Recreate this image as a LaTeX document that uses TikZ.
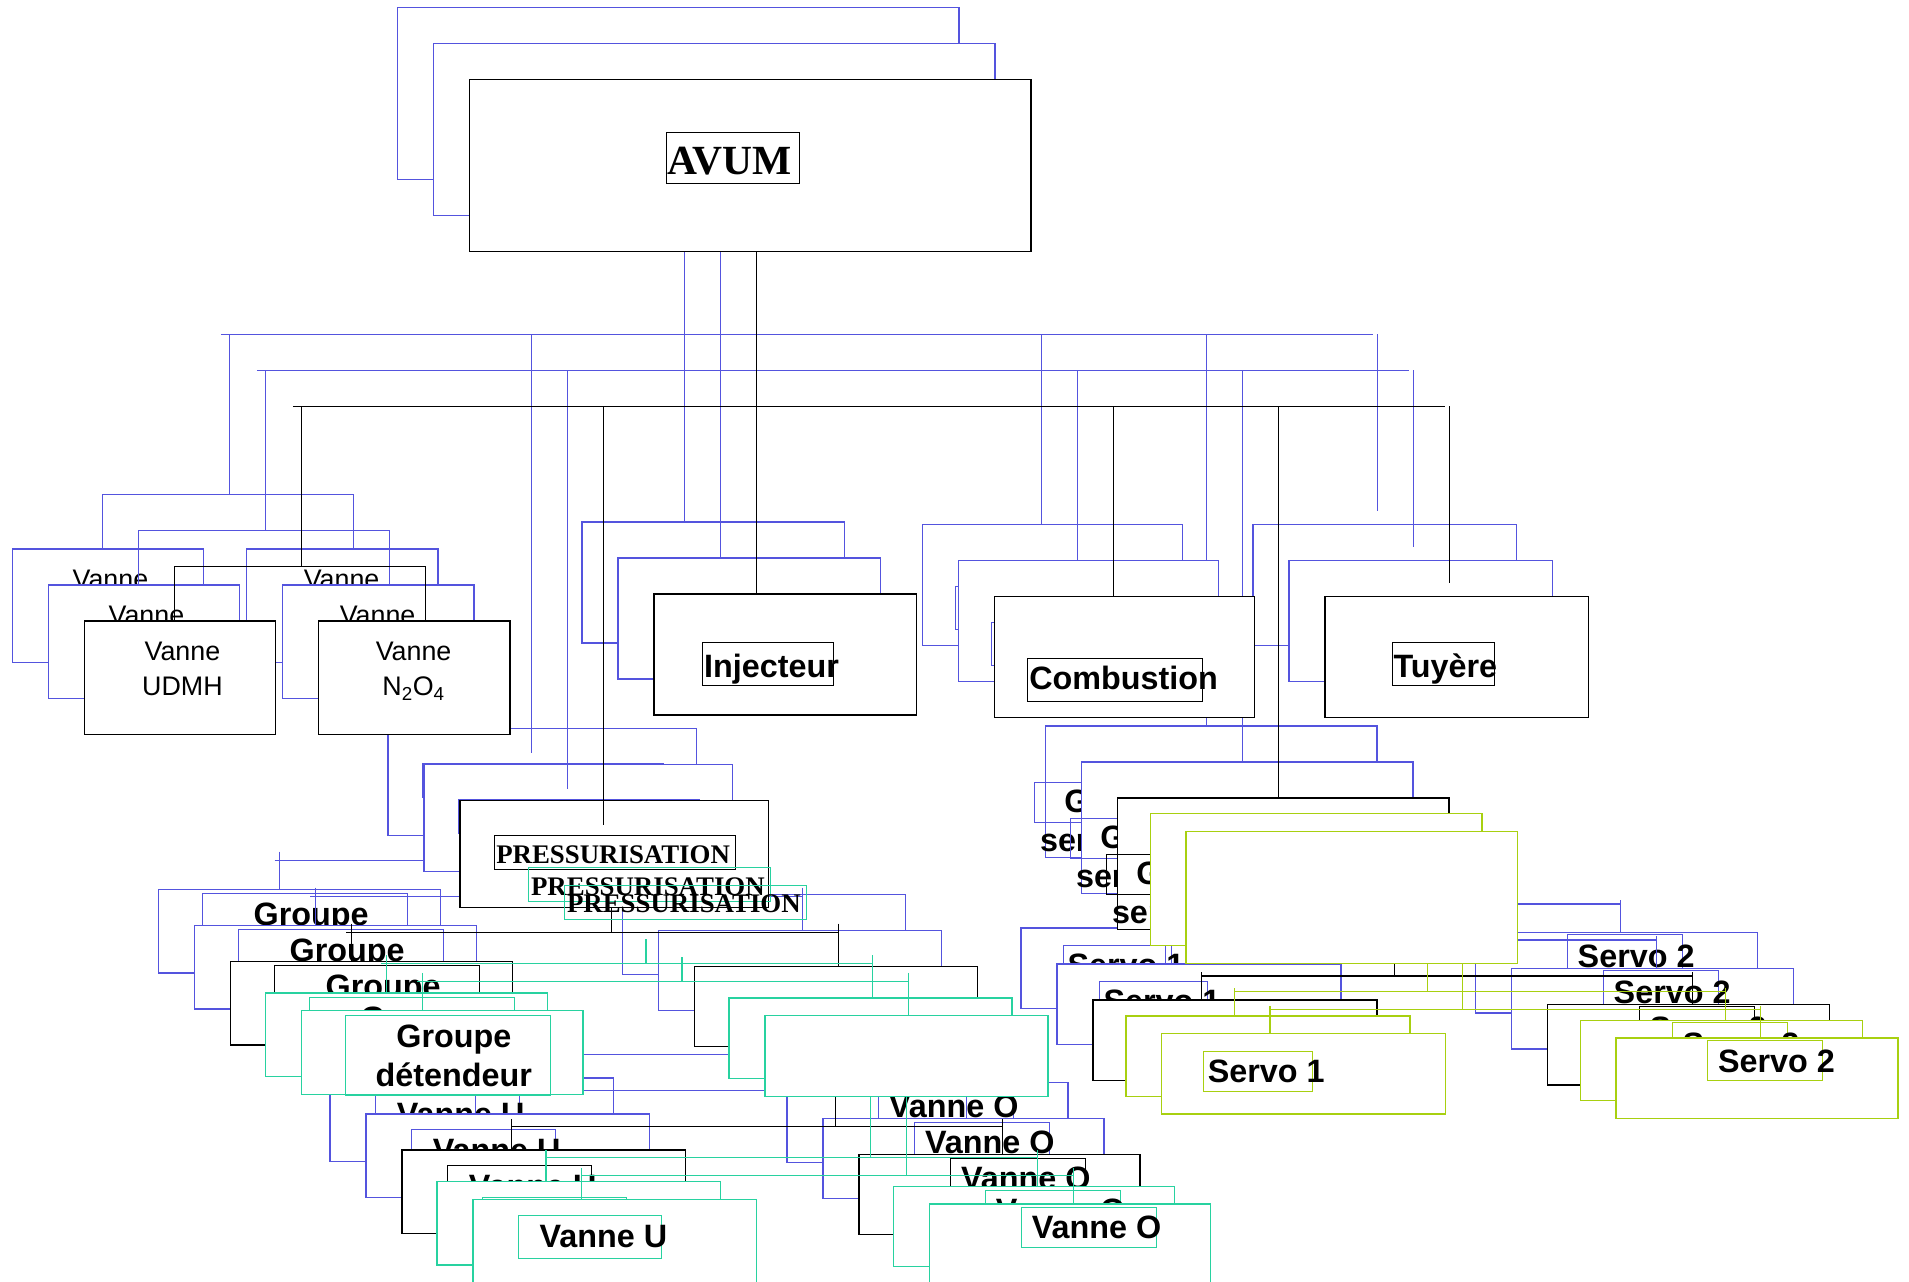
\documentclass[tikz,border=0pt]{standalone}
\usepackage{fontspec}
\setmainfont{Liberation Serif}
\setsansfont{Liberation Sans}

\definecolor{ghostblue}{RGB}{84,84,222}
\definecolor{ghostcyan}{RGB}{40,210,160}
\definecolor{ghostlime}{RGB}{168,208,16}

\newif\ifpressbox
\newif\ifservoname

\tikzset{
  chartbox/.style={draw, fill=white, line width=1.1pt, inner sep=0pt, outer sep=0pt, anchor=north west},
  tagbox/.style={draw, line width=0.8pt, inner sep=0pt, outer sep=0pt, anchor=north west},
  wire/.style={line width=0.9pt},
  chartname/.style={text=black, inner sep=0pt, anchor=base west},
  serifbig/.style={chartname, font=\rmfamily\bfseries\fontsize{34}{40}\selectfont},
  serifsmall/.style={chartname, font=\rmfamily\bfseries\fontsize{22}{26}\selectfont},
  sansbold/.style={chartname, font=\sffamily\bfseries\fontsize{26.5}{32}\selectfont},
  sanstwo/.style={text=black, inner sep=0pt, anchor=north, align=center, font=\sffamily\bfseries\fontsize{26.5}{32}\selectfont},
  vannetext/.style={text=black, inner sep=0pt, anchor=north, align=center, font=\sffamily\fontsize{22}{29}\selectfont}
}

% box: name, x, y, width, height
\newcommand{\cbox}[5]{%
  \node[chartbox, minimum width=#4pt, minimum height=#5pt] (\ly-#1) at (#2,#3) {};}
% label box: name, x, y, width, height, inset, rise, style, text
\newcommand{\ctag}[9]{%
  \node[tagbox, minimum width=#4pt, minimum height=#5pt] (\ly-#1) at (#2,#3) {};
  \node[#8, xshift=#6pt, yshift=#7pt] (\ly-#1-t) at (\ly-#1.south west) {#9};}

% pressurisation branch
\newcommand{\drawpress}{%
  \ifpressbox
    \cbox{pre}{377}{656}{253}{88}
  \fi
  \ctag{pre-l}{405}{685}{198}{28}{1.6}{5.4}{serifsmall}{PRESSURISATION}
  \cbox{grp}{189}{788}{231}{68.5}
  \node[tagbox, minimum width=168pt, minimum height=66pt] (\ly-grp-l) at (225,791.5) {};
  \node[sanstwo] (\ly-grp-t) at (314,799) {Groupe\\détendeur};
  \cbox{blank}{569}{792}{232}{66}
  \cbox{vu}{329.6}{942.6}{232.4}{68.4}
  \ctag{vu-l}{366.6}{955.5}{118}{35.4}{17.5}{9}{sansbold}{Vanne U}
  \cbox{vo}{704}{946.5}{230.4}{65.5}
  \ctag{vo-l}{779}{949.5}{110.6}{32.5}{8.6}{7}{sansbold}{Vanne O}
  \coordinate (\ly-gstub) at (501,744);
  \coordinate (\ly-gbar-w) at (284,764);
  \coordinate (\ly-gbar-e) at (687,764);
  \coordinate (\ly-gdrop-w) at (288,764);
  \coordinate (\ly-ubar-w) at (419,923);
  \coordinate (\ly-ubar-e) at (822,923);
  \draw[wire] (\ly-gstub) -- (\ly-gstub |- \ly-gbar-w);
  \draw[wire] (\ly-gbar-w) -- (\ly-gbar-e);
  \draw[wire] (\ly-gdrop-w) ++(0,-7) -- (\ly-gdrop-w |- \ly-grp.north);
  \draw[wire] (\ly-gbar-e) ++(0,-7) -- (\ly-gbar-e |- \ly-blank.north);
  \draw[wire] (\ly-blank.south) -- (\ly-blank.south |- \ly-ubar-w);
  \draw[wire] (\ly-ubar-w) -- (\ly-ubar-e);
  \draw[wire] (\ly-ubar-w) ++(0,-6) -- (\ly-ubar-w |- \ly-vu.north);
  \draw[wire] (\ly-ubar-e) ++(0,-6) -- (\ly-ubar-e |- \ly-vo.north);
}

% servo branch
\newcommand{\drawservo}{%
  \cbox{grs}{916}{654}{271.7}{108}
  \ifservoname
    \node[tagbox, minimum width=138pt, minimum height=33pt] (\ly-grs-l) at (907,700) {};
    \node[sanstwo] (\ly-grs-t) at (978.5,706) {Groupe\\servovérin};
  \fi
  \cbox{s1}{896}{819.7}{232.7}{66}
  \ctag{s1-l}{930.5}{834}{89}{33}{3.3}{7.4}{sansbold}{Servo 1}
  \cbox{s2}{1268.6}{823.2}{231}{66}
  \ctag{s2-l}{1343.5}{825}{94.5}{33}{8.5}{6.2}{sansbold}{Servo 2}
  \coordinate (\ly-sstub) at (1143,762);
  \coordinate (\ly-sbar-w) at (985,800);
  \coordinate (\ly-sbar-e) at (1387,800);
  \draw[wire] (\ly-sstub) -- (\ly-sstub |- \ly-sbar-w);
  \draw[wire] (\ly-sbar-w) -- (\ly-sbar-e);
  \draw[wire] (\ly-sbar-w) ++(0,-3) -- (\ly-sbar-w |- \ly-s1.north);
  \draw[wire] (\ly-sbar-e) ++(0,-3) -- (\ly-sbar-e |- \ly-s2.north);
}

% top of the chart
\newcommand{\drawtop}{%
  \cbox{avum}{385}{65}{460}{141}
  \ctag{avum-l}{546.5}{108.5}{109}{42}{0.5}{7.5}{serifbig}{AVUM}
  \cbox{udmh}{69}{509}{157}{93}
  \node[vannetext] (\ly-udmh-t) at (149.5,526) {Vanne\\UDMH};
  \cbox{n2o4}{261}{509}{157}{93}
  \node[vannetext] (\ly-n2o4-t) at (339,526) {Vanne\\N\textsubscript{2}O\textsubscript{4}};
  \cbox{inj}{536}{487}{215}{99}
  \ctag{inj-l}{575.5}{527}{108}{35}{1.5}{7}{sansbold}{Injecteur}
  \cbox{comb}{815}{489}{213}{99}
  \ctag{comb-l}{842}{540}{144}{35}{1.5}{10}{sansbold}{Combustion}
  \cbox{tuy}{1086}{489}{216}{99}
  \ctag{tuy-l}{1141}{527}{84}{35}{1}{7}{sansbold}{Tuyère}
  \coordinate (\ly-bus-w) at (240,333);
  \coordinate (\ly-bus-e) at (1184,333);
  \coordinate (\ly-x-van) at (247,333);
  \coordinate (\ly-x-pre) at (495,333);
  \coordinate (\ly-x-inj) at (620,333);
  \coordinate (\ly-x-com) at (913,333);
  \coordinate (\ly-x-grs) at (1048,333);
  \coordinate (\ly-x-tuy) at (1188,333);
  \coordinate (\ly-vbar-w) at (143,464);
  \coordinate (\ly-vbar-e) at (349,464);
  \draw[wire] (\ly-bus-w) -- (\ly-bus-e);
  \draw[wire] (\ly-avum.south -| \ly-x-inj) -- (\ly-inj.north -| \ly-x-inj);
  \draw[wire] (\ly-x-van) -- (\ly-x-van |- \ly-vbar-w);
  \draw[wire] (\ly-vbar-w) -- (\ly-vbar-e);
  \draw[wire] (\ly-vbar-w) -- (\ly-vbar-w |- \ly-udmh.north);
  \draw[wire] (\ly-vbar-e) -- (\ly-vbar-e |- \ly-n2o4.north);
  \draw[wire, shorten >=-20pt] (\ly-x-pre) -- (\ly-x-pre |- \ly-pre.north);
  \draw[wire] (\ly-x-com) -- (\ly-x-com |- \ly-comb.north);
  \draw[wire] (\ly-x-grs) -- (\ly-x-grs |- \ly-grs.north);
  \draw[wire, shorten >=11pt] (\ly-x-tuy) -- (\ly-x-tuy |- \ly-tuy.north);
}

\begin{document}
\begin{tikzpicture}[x=1pt, y=-1pt]
\useasboundingbox (0,0) rectangle (1564.75,1050.8);
\fill[white] (0,0) rectangle (1564.75,1050.8);
\clip (0,0) rectangle (1564.75,1050.8);

% two blue copies behind, then the black chart
\pressboxtrue
\servonametrue
\foreach \dd/\ly/\lc in {59/ba/ghostblue, 29.5/bb/ghostblue, 0/main/black} {
  \begin{scope}[shift={(-\dd,-\dd)}, color=\lc]
    \drawpress
    \drawservo
    \drawtop
  \end{scope}
}

% cyan copies of the pressurisation branch
\pressboxfalse
\foreach \dx/\dy/\ly in {28.5/26/ca, 58/40.5/cb} {
  \begin{scope}[shift={(\dx,\dy)}, color=ghostcyan]
    \drawpress
  \end{scope}
}

% green copies of the servo branch
\servonamefalse
\foreach \dx/\dy/\ly in {27/13/la, 56/27.5/lb} {
  \begin{scope}[shift={(\dx,\dy)}, color=ghostlime]
    \drawservo
  \end{scope}
}
\end{tikzpicture}
\end{document}
